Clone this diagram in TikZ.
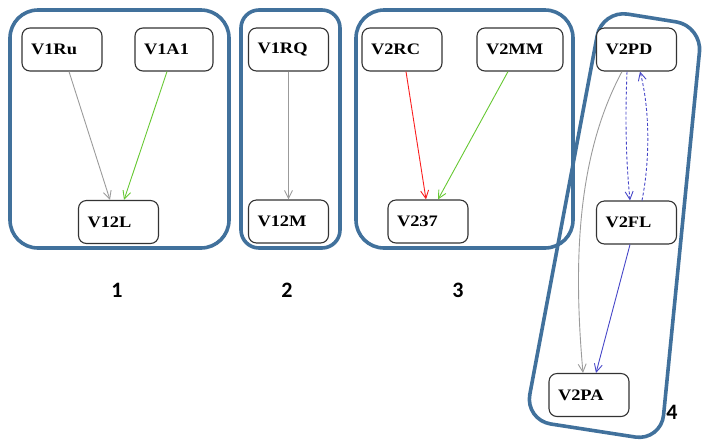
\documentclass[tikz,border=0pt]{standalone}
\usepackage{fontspec}
\newfontfamily\boxfont[FakeStretch=1.15]{Liberation Serif}
\newfontfamily\tagfont{Carlito}
\usetikzlibrary{arrows.meta}
\definecolor{grpblue}{RGB}{65,113,156}
\definecolor{edgegray}{RGB}{155,155,155}
\definecolor{edgegreen}{RGB}{102,200,50}
\definecolor{edgered}{RGB}{250,30,30}
\definecolor{edgeblue}{RGB}{70,70,200}
\begin{document}
\begin{tikzpicture}[x=1pt,y=-1pt,
  vbox/.style={draw=black!80, line width=1.1pt, rounded corners=8pt, fill=white,
    minimum height=43pt, text width=62pt, inner xsep=9pt, inner ysep=0pt, align=left,
    font=\boxfont\bfseries\fontsize{16}{19}\selectfont},
  group/.style={draw=grpblue, line width=3.6pt},
  link/.style={line width=0.9pt, -{Straight Barb[length=8pt,width=8pt]}},
  dotlink/.style={link, dash pattern=on 3pt off 2pt},
  grouptag/.style={font=\tagfont\bfseries\fontsize{22}{26}\selectfont}]
\useasboundingbox (0,0) rectangle (703,440);

% group frames
\draw[group, rounded corners=28pt] (10,10) rectangle (229,248);
\draw[group, rounded corners=18pt] (241,10) rectangle (340,248);
\draw[group, rounded corners=28pt] (356,10) rectangle (573,248);
\draw[group, rounded corners=26pt] (602,10) -- (702,26) -- (661,441) -- (525,420) -- cycle;

% nodes
\node[vbox] (v1ru) at (62,49.5) {V1Ru};
\node[vbox, text width=60pt] (v1a1) at (174,49.5) {V1A1};
\node[vbox] (v12l) at (118.5,222) {V12L};
\node[vbox] (v1rq) at (288.5,49.5) {V1RQ};
\node[vbox] (v12m) at (288.5,221.5) {V12M};
\node[vbox] (v2rc) at (402,49.5) {V2RC};
\node[vbox, text width=68pt] (v2mm) at (520,49.5) {V2MM};
\node[vbox] (v237) at (428,221.5) {V237};
\node[vbox] (v2pd) at (636.5,49.5) {V2PD};
\node[vbox] (v2fl) at (636.5,222.5) {V2FL};
\node[vbox] (v2pa) at (589,395) {V2PA};

% connectors
\draw[link, edgegray] ([xshift=7pt]v1ru.south) -- ([xshift=-8.5pt]v12l.north);
\draw[link, edgegreen] ([xshift=-7pt]v1a1.south) -- ([xshift=5.5pt]v12l.north);
\draw[link, edgegray] (v1rq.south) -- (v12m.north);
\draw[link, edgered] ([xshift=4pt]v2rc.south) -- ([xshift=-2pt]v237.north);
\draw[link, edgegreen] ([xshift=-12pt]v2mm.south) -- ([xshift=10pt]v237.north);
\draw[link, edgegray] ([xshift=-14.5pt]v2pd.south) .. controls (580,150) and (572,250) .. ([xshift=-6pt]v2pa.north);
\draw[dotlink, edgeblue] ([xshift=-9.5pt]v2pd.south) .. controls (625,120) and (626,160) .. ([xshift=-6.5pt]v2fl.north);
\draw[dotlink, edgeblue] ([xshift=5.5pt]v2fl.north) .. controls (650,160) and (650,110) .. ([xshift=3.5pt]v2pd.south);
\draw[link, edgeblue] ([xshift=-6.5pt]v2fl.south) -- ([xshift=7pt]v2pa.north);

% group numbers
\node[grouptag] (t1) at (117,290) {1};
\node[grouptag] (t2) at (287,290) {2};
\node[grouptag] (t3) at (458,290) {3};
\node[grouptag] (t4) at (672,412) {4};
\end{tikzpicture}
\end{document}
